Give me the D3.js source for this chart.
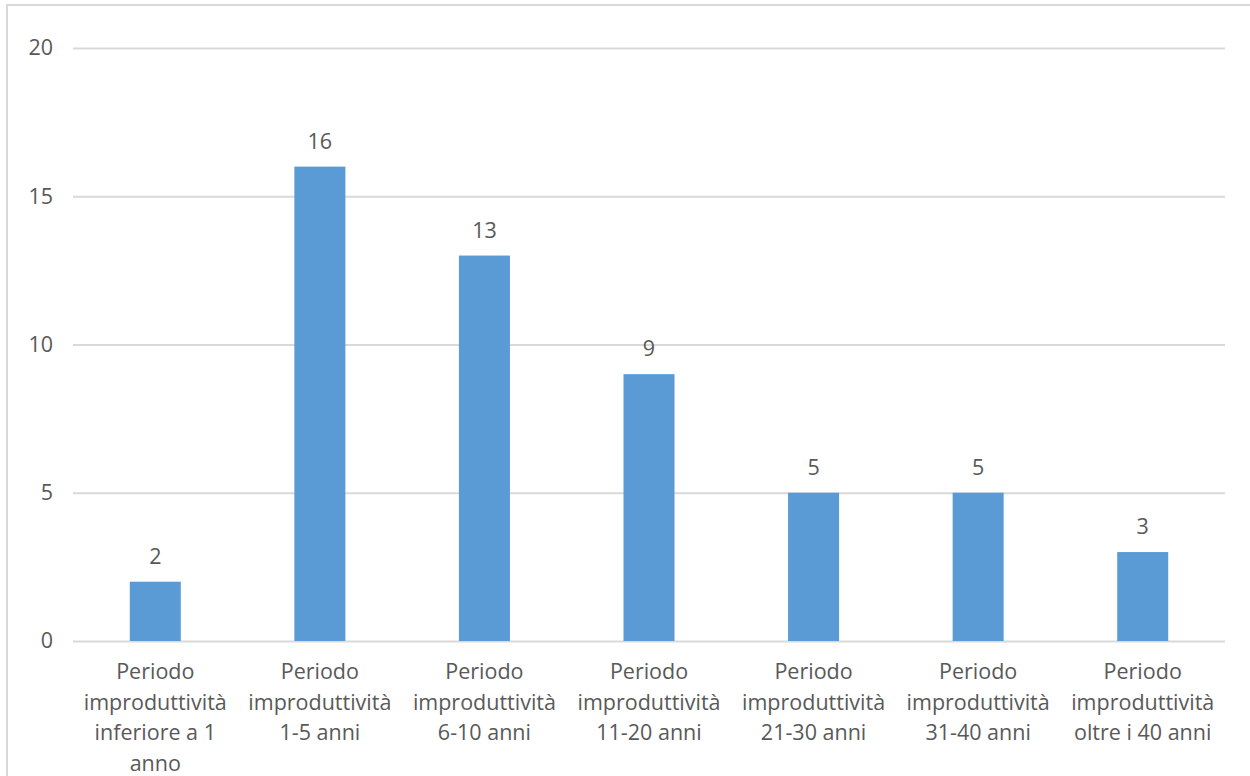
<!DOCTYPE html>
<html><head><meta charset="utf-8">
<script src="https://cdn.jsdelivr.net/npm/d3@7"></script>
<style>body{margin:0;background:#fff;} text{font-family:"Open Sans",sans-serif;}</style>
</head><body>
<svg id="c" width="1250" height="776"></svg>
<script>
const categories = [
  ["Periodo","improduttività","inferiore a 1","anno"],
  ["Periodo","improduttività","1-5 anni"],
  ["Periodo","improduttività","6-10 anni"],
  ["Periodo","improduttività","11-20 anni"],
  ["Periodo","improduttività","21-30 anni"],
  ["Periodo","improduttività","31-40 anni"],
  ["Periodo","improduttività","oltre i 40 anni"]
];
const values = [2,16,13,9,5,5,3];
const yTicks = [0,5,10,15,20];

const svg = d3.select("#c");
svg.append("rect").attr("x",7).attr("y",5).attr("width",1260).attr("height",790)
  .attr("fill","none").attr("stroke","#d9d9d9").attr("stroke-width",2);

const x0=73,x1=1225,yTop=48,yBot=641;
const x = d3.scaleBand().domain(d3.range(values.length)).range([x0,x1]).paddingInner(0.69).paddingOuter(0.345);
const y = d3.scaleLinear().domain([0,20]).range([yBot,yTop]);
const fs = 21.5;

const yAxis = d3.axisLeft(y).tickValues(yTicks).tickSize(-(x1-x0)).tickPadding(20);
const ga = svg.append("g").attr("transform",`translate(${x0},0)`).call(yAxis);
ga.select(".domain").remove();
ga.selectAll(".tick line").attr("stroke","#d9d9d9").attr("stroke-width",2);
ga.selectAll(".tick text").attr("fill","#595959").attr("font-size",fs).attr("font-family","Open Sans");

svg.append("g").selectAll("rect").data(values).join("rect")
  .attr("x",(d,i)=>x(i)).attr("width",x.bandwidth())
  .attr("y",d=>y(d)).attr("height",d=>yBot-y(d)).attr("fill","#5b9bd5");

svg.append("g").selectAll("text").data(values).join("text")
  .attr("x",(d,i)=>x(i)+x.bandwidth()/2).attr("y",d=>y(d)-18)
  .attr("text-anchor","middle").attr("fill","#595959").attr("font-size",fs).text(d=>d);

const gx = svg.append("g");
categories.forEach((lines,i)=>{
  const t = gx.append("text").attr("text-anchor","middle").attr("fill","#595959").attr("font-size",fs);
  lines.forEach((l,j)=>{
    t.append("tspan").attr("x",x(i)+x.bandwidth()/2).attr("y",679+j*30.5).text(l);
  });
});
</script>
</body></html>
